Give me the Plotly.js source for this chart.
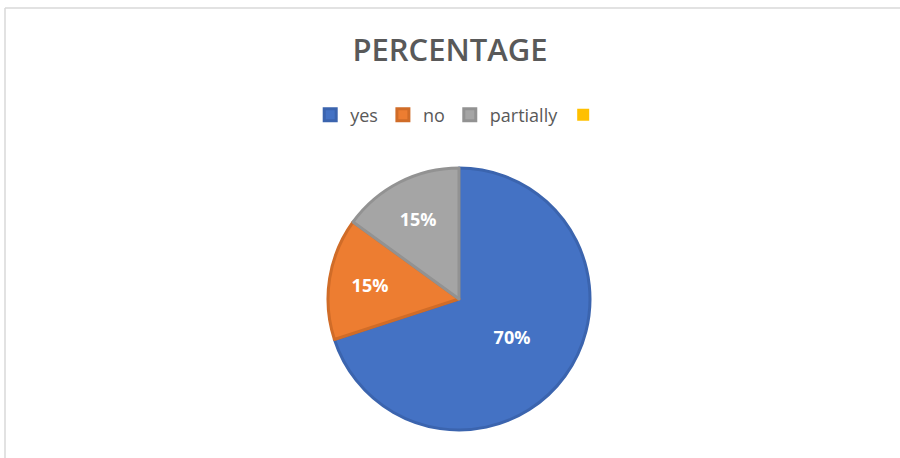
<!DOCTYPE html>
<html>
<head>
<meta charset="utf-8">
<script src="https://cdn.plot.ly/plotly-3.0.1.min.js"></script>
<style>html,body{margin:0;padding:0;background:#fff;}#chart{width:900px;height:458px;}</style>
</head>
<body>
<div id="chart"></div>
<script>
const categories = ['yes', 'no', 'partially', ' '];
const values = [70, 15, 15, 0];
const colors = ['#4472C4', '#ED7D31', '#A5A5A5', '#FFC000'];
const edgeColors = ['#3B64AE', '#D06C28', '#929292', '#FFC000'];
const edgeWidths = [3, 3, 3, 0];

const W = 900, H = 458;
const cx = 459, cy = 299, r = 131;

const trace = {
  type: 'pie',
  labels: categories,
  values: values,
  sort: false,
  direction: 'clockwise',
  rotation: 0,
  marker: { colors: colors, line: { color: edgeColors, width: edgeWidths } },
  texttemplate: '%{percent:.0%}',
  textposition: 'inside',
  insidetextorientation: 'horizontal',
  textfont: { family: 'Open Sans, sans-serif', size: 18, color: '#ffffff', weight: 700 },
  hoverinfo: 'label+percent',
  domain: { x: [(cx - r) / W, (cx + r) / W], y: [1 - (cy + r) / H, 1 - (cy - r) / H] }
};

const layout = {
  width: W, height: H,
  margin: { l: 0, r: 0, t: 0, b: 0 },
  paper_bgcolor: '#ffffff',
  title: {
    text: 'PERCENTAGE',
    x: 0.5, xanchor: 'center',
    y: 1 - 50 / H, yanchor: 'middle',
    font: { family: 'Open Sans, sans-serif', size: 31, color: '#595959', weight: 600 }
  },
  showlegend: true,
  legend: {
    orientation: 'h',
    x: 0.513, xanchor: 'center',
    y: 1 - 115 / H, yanchor: 'middle',
    font: { family: 'Open Sans, sans-serif', size: 18, color: '#595959' },
    itemwidth: 30,
    tracegroupgap: 0
  },
  shapes: [
    { type: 'line', xref: 'paper', yref: 'paper', x0: 5 / W, x1: 5 / W, y0: 0, y1: 1 - 8 / H, line: { color: '#D9D9D9', width: 1.5 } },
    { type: 'line', xref: 'paper', yref: 'paper', x0: 5 / W, x1: 1, y0: 1 - 8 / H, y1: 1 - 8 / H, line: { color: '#D9D9D9', width: 1.5 } }
  ]
};

Plotly.newPlot('chart', [trace], layout, { displayModeBar: false, staticPlot: true });
</script>
</body>
</html>
